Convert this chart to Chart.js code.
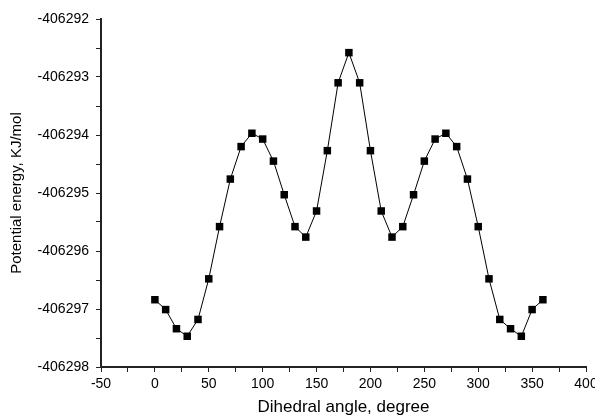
<!DOCTYPE html>
<html>
<head>
<meta charset="utf-8">
<script src="https://cdn.jsdelivr.net/npm/chart.js@4"></script>
<style>
  html, body { margin: 0; padding: 0; background: #fff; }
  #wrap { width: 595px; height: 418px; }
</style>
</head>
<body>
<div id="wrap"><canvas id="energyChart" width="595" height="418"></canvas></div>
<script>
// Dihedral scan, one point every 10 degrees
const angles = [0, 10, 20, 30, 40, 50, 60, 70, 80, 90, 100, 110, 120, 130, 140, 150, 160, 170, 180,
    190, 200, 210, 220, 230, 240, 250, 260, 270, 280, 290, 300, 310, 320, 330, 340, 350, 360];
const energies = [
    -406296.84, -406297.01, -406297.34, -406297.47, -406297.18, -406296.48, -406295.58, -406294.76,
    -406294.20, -406293.97, -406294.07, -406294.45, -406295.03, -406295.58, -406295.76, -406295.31,
    -406294.27, -406293.10, -406292.58, -406293.10, -406294.27, -406295.31, -406295.76, -406295.58,
    -406295.03, -406294.45, -406294.07, -406293.97, -406294.20, -406294.76, -406295.58, -406296.48,
    -406297.18, -406297.34, -406297.47, -406297.01, -406296.84
];
const xRange = [-50, 400];
const yRange = [-406298, -406292];

const points = angles.map((a, i) => ({ x: a, y: energies[i] }));
const fontFamily = '"Liberation Sans", Arial, sans-serif';

const ctx = document.getElementById('energyChart').getContext('2d');
new Chart(ctx, {
    type: 'scatter',
    data: {
        datasets: [{
            data: points,
            showLine: true,
            borderColor: '#000',
            borderWidth: 1,
            pointStyle: 'rect',
            pointRadius: 5.3,
            pointBackgroundColor: '#000',
            pointBorderColor: '#000',
            pointBorderWidth: 0
        }]
    },
    options: {
        responsive: false,
        animation: false,
        layout: { padding: { top: 19, right: 9, left: 0, bottom: 0 } },
        plugins: {
            legend: { display: false },
            tooltip: { enabled: false }
        },
        scales: {
            x: {
                type: 'linear',
                min: xRange[0],
                max: xRange[1],
                border: { display: true, color: '#222', width: 2 },
                grid: { drawOnChartArea: false, drawTicks: true, tickLength: 5, color: '#222', lineWidth: 1 },
                ticks: {
                    stepSize: 25,
                    autoSkip: false,
                    maxRotation: 0,
                    padding: 4,
                    color: '#000',
                    font: { family: fontFamily, size: 14 },
                    callback: v => (v % 50 === 0 ? String(v) : '')
                },
                title: {
                    display: true,
                    text: 'Dihedral angle, degree',
                    color: '#000',
                    font: { family: fontFamily, size: 17 },
                    padding: { top: 0, bottom: 0 }
                },
                afterFit: scale => {
                    scale.height = 51;
                    scale.paddingLeft = 0;
                    scale.paddingRight = 0;
                }
            },
            y: {
                type: 'linear',
                min: yRange[0],
                max: yRange[1],
                border: { display: true, color: '#222', width: 2 },
                grid: { drawOnChartArea: false, drawTicks: true, tickLength: 5, color: '#222', lineWidth: 1 },
                ticks: {
                    stepSize: 0.5,
                    autoSkip: false,
                    padding: 7,
                    color: '#000',
                    font: { family: fontFamily, size: 14 },
                    callback: v => (Math.abs(v % 1) < 1e-6 ? String(Math.round(v)) : '')
                },
                title: {
                    display: true,
                    text: 'Potential energy, KJ/mol',
                    color: '#000',
                    font: { family: fontFamily, size: 15 },
                    padding: { top: 8, bottom: 8 }
                },
                afterFit: scale => {
                    scale.width = 101;
                    scale.paddingTop = 0;
                    scale.paddingBottom = 0;
                }
            }
        }
    }
});
</script>
</body>
</html>
